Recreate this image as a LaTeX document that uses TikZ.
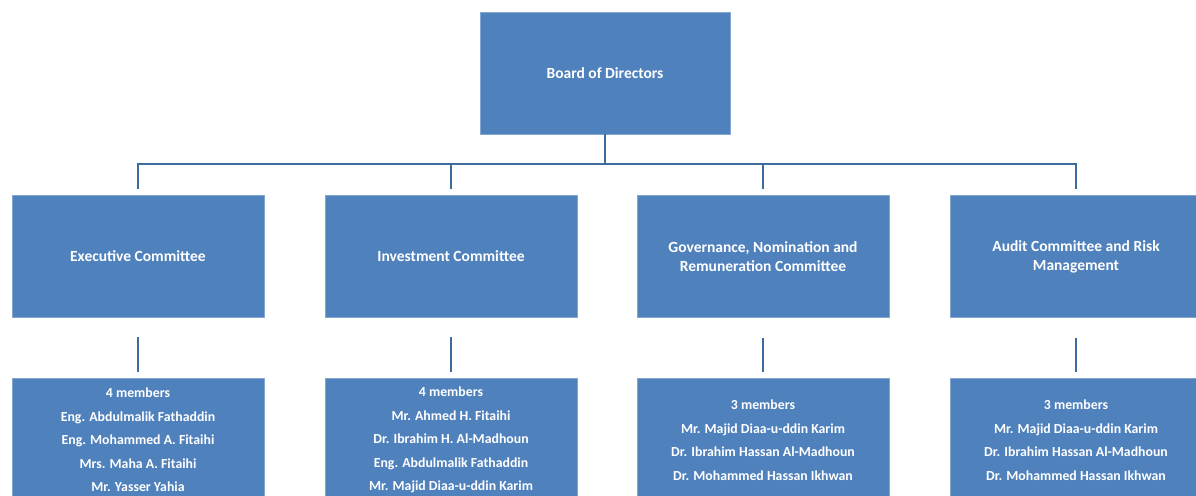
\documentclass[tikz,border=0pt]{standalone}
\usepackage{fontspec}
\setmainfont{Carlito}
\usetikzlibrary{calc}
\definecolor{boxblue}{HTML}{4F81BD}
\definecolor{lineblue}{HTML}{3E6C9E}
\begin{document}
\begin{tikzpicture}[x=1pt,y=-1pt,
  orgbox/.style={rectangle, fill=boxblue, draw=boxblue!70!white, line width=0.6pt,
    text=white, font=\bfseries\fontsize{15.5}{19}\selectfont, align=center,
    minimum width=252pt, minimum height=122pt, inner sep=0pt},
  membox/.style={orgbox, minimum height=124pt, font=\bfseries\fontsize{13.8}{23.5}\selectfont},
  conn/.style={draw=lineblue, line width=2.8pt}]
\useasboundingbox (0,0) rectangle (1196,495);
\clip (0,0) rectangle (1196,495);
\node[orgbox, minimum width=250pt] (board) at (605,73) {Board of Directors};
\node[orgbox] (c1) at (138,256) {Executive Committee};
\node[orgbox] (c2) at (451,256) {Investment Committee};
\node[orgbox] (c3) at (763,256.5) {Governance, Nomination and\\Remuneration Committee};
\node[orgbox] (c4) at (1076,256.5) {Audit Committee and Risk\\Management};
\node[membox] (m1) at (138,440) {4 members\\Eng. Abdulmalik Fathaddin\\Eng. Mohammed A. Fitaihi\\Mrs. Maha A. Fitaihi\\Mr. Yasser Yahia};
\node[membox] (m2) at (451,440) {4 members\\Mr. Ahmed H. Fitaihi\\Dr. Ibrahim H. Al-Madhoun\\Eng. Abdulmalik Fathaddin\\Mr. Majid Diaa-u-ddin Karim};
\node[membox] (m3) at (763,440) {3 members\\Mr. Majid Diaa-u-ddin Karim\\Dr. Ibrahim Hassan Al-Madhoun\\Dr. Mohammed Hassan Ikhwan};
\node[membox] (m4) at (1076,440) {3 members\\Mr. Majid Diaa-u-ddin Karim\\Dr. Ibrahim Hassan Al-Madhoun\\Dr. Mohammed Hassan Ikhwan};
\coordinate (j) at (605,164);
\foreach \i in {1,2,3,4} {
  \coordinate (t\i) at ($(c\i.north)+(0,-6)$);
  \coordinate (s\i) at ($(c\i.south)+(0,20)$);
  \coordinate (e\i) at ($(m\i.north)+(0,-6)$);
}
\draw[conn] (board.south) -- (j);
\draw[conn] (t1) |- (j);
\draw[conn] (t4) |- (j);
\draw[conn] (t2) -- (t2|-j);
\draw[conn] (t3) -- (t3|-j);
\foreach \i in {1,2,3,4} {
  \draw[conn] (s\i) -- (e\i);
}
\end{tikzpicture}
\end{document}
